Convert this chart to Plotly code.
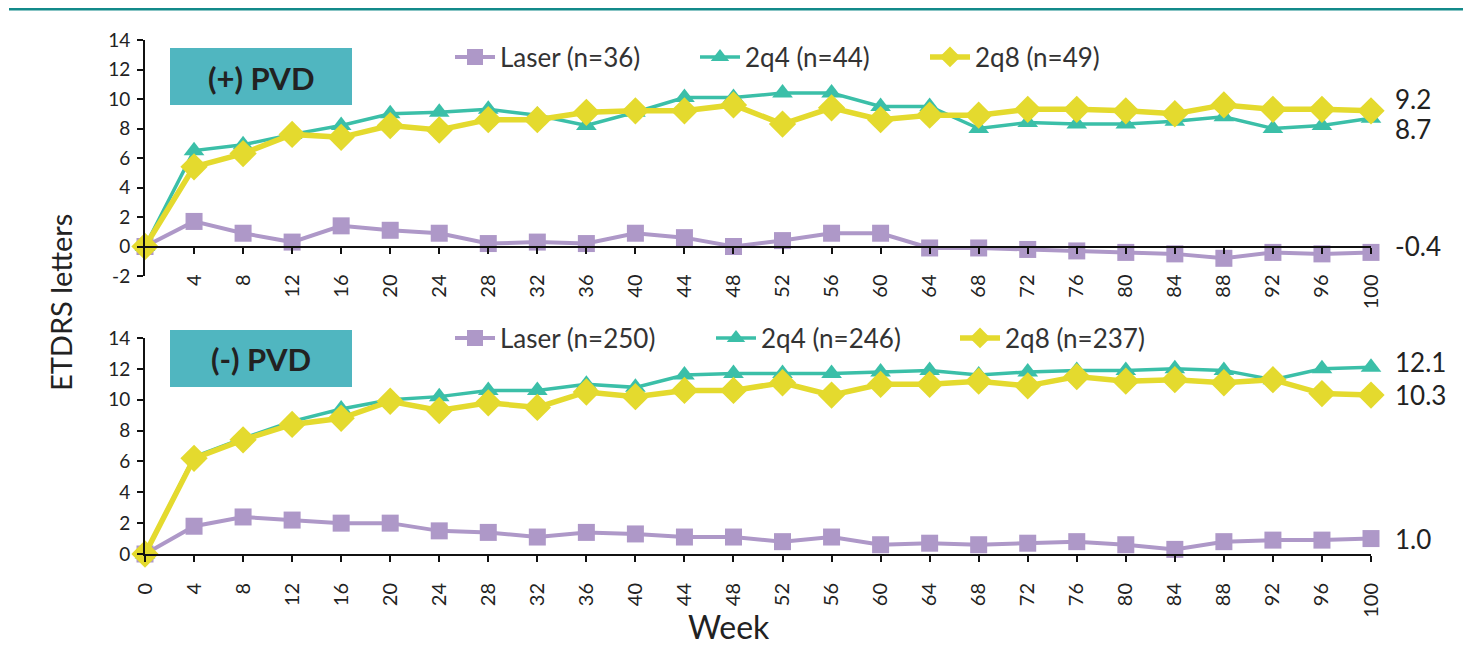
import plotly.graph_objects as go

weeks = list(range(0, 101, 4))
y_ticks_top = [-2, 0, 2, 4, 6, 8, 10, 12, 14]
y_ticks_bot = [0, 2, 4, 6, 8, 10, 12, 14]

# (+) PVD panel
pos_laser = [0.0, 1.7, 0.9, 0.3, 1.4, 1.1, 0.9, 0.2, 0.3, 0.2, 0.9, 0.6, 0.0, 0.4, 0.9, 0.9,
             -0.1, -0.1, -0.2, -0.3, -0.4, -0.5, -0.8, -0.4, -0.5, -0.4]
pos_2q4 = [0.0, 6.5, 6.9, 7.6, 8.2, 9.0, 9.1, 9.3, 8.9, 8.2, 9.1, 10.1, 10.1, 10.4, 10.4, 9.5,
           9.5, 8.0, 8.4, 8.3, 8.3, 8.5, 8.8, 8.0, 8.2, 8.7]
pos_2q8 = [0.0, 5.4, 6.3, 7.6, 7.4, 8.2, 7.9, 8.6, 8.6, 9.1, 9.2, 9.2, 9.6, 8.3, 9.4, 8.6,
           8.9, 8.9, 9.3, 9.3, 9.2, 9.0, 9.6, 9.3, 9.3, 9.2]

# (-) PVD panel
neg_laser = [0.0, 1.8, 2.4, 2.2, 2.0, 2.0, 1.5, 1.4, 1.1, 1.4, 1.3, 1.1, 1.1, 0.8, 1.1, 0.6,
             0.7, 0.6, 0.7, 0.8, 0.6, 0.3, 0.8, 0.9, 0.9, 1.0]
neg_2q4 = [0.0, 6.3, 7.5, 8.6, 9.4, 10.0, 10.2, 10.6, 10.6, 11.0, 10.8, 11.6, 11.7, 11.7, 11.7, 11.8,
           11.9, 11.6, 11.8, 11.9, 11.9, 12.0, 11.9, 11.3, 12.0, 12.1]
neg_2q8 = [0.0, 6.2, 7.4, 8.4, 8.8, 9.9, 9.3, 9.8, 9.5, 10.5, 10.2, 10.6, 10.6, 11.1, 10.3, 11.0,
           11.0, 11.2, 10.9, 11.5, 11.2, 11.3, 11.1, 11.3, 10.4, 10.3]

pos_names = ["Laser (n=36)", "2q4 (n=44)", "2q8 (n=49)"]
neg_names = ["Laser (n=250)", "2q4 (n=246)", "2q8 (n=237)"]
panel_labels = ["(+) PVD", "(-) PVD"]

C_LASER = "#AE98C8"
C_2Q4 = "#3BBFA8"
C_2Q8 = "#E4DA2E"
FONT = "Lato"
OFF = 8          # page body margin
W, H = 1463, 642


def fy(px):
    return 1 - (px - OFF) / H


def fx(px):
    return (px - OFF) / W


fig = go.Figure()

styles = [
    dict(color=C_LASER, width=4, symbol="square", size=17),
    dict(color=C_2Q4, width=3.5, symbol="triangle-up", size=18),
    dict(color=C_2Q8, width=5.5, symbol="diamond", size=21),
]

# legend text start x (reference pixels) and centre y
leg_pos_top = [500, 745, 975]
leg_pos_bot = [500, 761, 1005]
leg_y_top, leg_y_bot = 57, 338

legend_layouts = {}


def add_panel(series, names, xa, ya, leg_x, leg_y, first_idx):
    for i, (s, n, st) in enumerate(zip(series, names, styles)):
        lname = "legend" if first_idx + i == 1 else f"legend{first_idx + i}"
        fig.add_trace(go.Scatter(
            x=weeks, y=s, name=n, mode="lines+markers",
            line=dict(color=st["color"], width=st["width"]),
            marker=dict(symbol=st["symbol"], size=st["size"], color=st["color"]),
            xaxis=xa, yaxis=ya, legend=lname, cliponaxis=False,
        ))
        legend_layouts[lname] = dict(
            orientation="h", x=fx(leg_x[i] - 50), y=fy(leg_y), xanchor="left",
            yanchor="middle", font=dict(family=FONT, size=26, color="#333333"),
            itemwidth=40, bgcolor="rgba(0,0,0,0)", borderwidth=0)


add_panel([pos_laser, pos_2q4, pos_2q8], pos_names, "x", "y", leg_pos_top, leg_y_top, 1)
add_panel([neg_laser, neg_2q4, neg_2q8], neg_names, "x2", "y2", leg_pos_bot, leg_y_bot, 4)

x_dom = [fx(145), fx(1371)]
top_dom = [fy(276), fy(40)]
bot_dom = [fy(554), fy(338)]
zero_top = top_dom[0] + (0 - (-2)) / 16 * (top_dom[1] - top_dom[0])

xtickfont = dict(family=FONT, size=20, color="#222222")
ytickfont = dict(family=FONT, size=19, color="#222222")
common_x = dict(range=[0, 100], showgrid=False, zeroline=False, showline=True,
                linecolor="#111111", linewidth=2, ticks="outside", ticklen=6,
                tickwidth=2, tickcolor="#111111", tickangle=-90, tickfont=xtickfont,
                ticklabelstandoff=13, automargin=False)
common_y = dict(showgrid=False, zeroline=False, showline=True, linecolor="#111111",
                linewidth=2, ticks="outside", ticklen=6, tickwidth=2, tickcolor="#111111",
                tickfont=ytickfont, ticklabelstandoff=3, automargin=False)

fig.update_layout(
    width=W, height=H,
    margin=dict(l=0, r=0, t=0, b=0),
    paper_bgcolor="white", plot_bgcolor="white",
    font=dict(family=FONT, color="#222222"),
    xaxis=dict(domain=x_dom, anchor="free", position=zero_top,
               tickvals=weeks[1:], **common_x),
    yaxis=dict(domain=top_dom, range=[-2, 14], anchor="x", tickvals=y_ticks_top,
               ticktext=[str(v) for v in y_ticks_top], **common_y),
    xaxis2=dict(domain=x_dom, anchor="y2", tickvals=weeks, **common_x),
    yaxis2=dict(domain=bot_dom, range=[0, 14], anchor="x2", tickvals=y_ticks_bot,
                ticktext=[str(v) for v in y_ticks_bot], **common_y),
    showlegend=True,
    **legend_layouts,
)

shapes = [
    dict(type="line", xref="paper", yref="paper", x0=fx(9), x1=fx(1467), y0=fy(8.5), y1=fy(8.5),
         line=dict(color="#138A8A", width=4)),
    dict(type="rect", xref="paper", yref="paper", x0=fx(170), x1=fx(352), y0=fy(105), y1=fy(48),
         fillcolor="#50B6C0", line=dict(width=0), layer="below"),
    dict(type="rect", xref="paper", yref="paper", x0=fx(170), x1=fx(352), y0=fy(387), y1=fy(330),
         fillcolor="#50B6C0", line=dict(width=0), layer="below"),
]
fig.update_layout(shapes=shapes)

ann = [
    dict(text=panel_labels[0], xref="paper", yref="paper", x=fx(261), y=fy(78), showarrow=False,
         xanchor="center", yanchor="middle",
         font=dict(family=FONT, size=31, color="#222222", weight="bold")),
    dict(text=panel_labels[1], xref="paper", yref="paper", x=fx(261), y=fy(359), showarrow=False,
         xanchor="center", yanchor="middle",
         font=dict(family=FONT, size=31, color="#222222", weight="bold")),
    dict(text="ETDRS letters", xref="paper", yref="paper", x=fx(61), y=fy(302), showarrow=False,
         xanchor="center", yanchor="middle",
         textangle=-90, font=dict(family=FONT, size=29, color="#222222")),
    dict(text="Week", xref="paper", yref="paper", x=fx(729), y=fy(626), showarrow=False,
         xanchor="center", yanchor="middle",
         font=dict(family=FONT, size=32, color="#222222")),
]
endlabels = [
    (pos_2q8[-1], "x", "y", -12),
    (pos_2q4[-1], "x", "y", 11),
    (pos_laser[-1], "x", "y", -6),
    (neg_2q4[-1], "x2", "y2", -5),
    (neg_2q8[-1], "x2", "y2", 0),
    (neg_laser[-1], "x2", "y2", 0),
]
for v, xr, yr, dy in endlabels:
    ann.append(dict(text=f"{v:.1f}", x=100, y=v, xref=xr, yref=yr, xanchor="left",
                    yanchor="middle", xshift=22, yshift=-dy, showarrow=False,
                    font=dict(family=FONT, size=26, color="#222222")))
fig.update_layout(annotations=ann)

fig.write_html("out.html")
